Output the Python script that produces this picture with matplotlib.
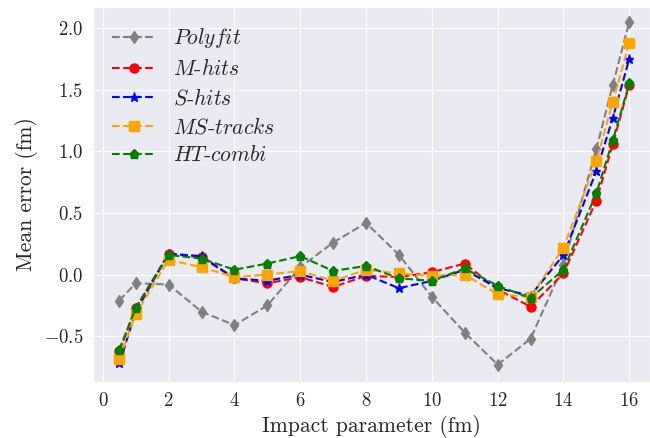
import matplotlib
matplotlib.use('Agg')
import matplotlib.pyplot as plt
import seaborn as sns

sns.set_style('darkgrid')
plt.rcParams['font.family'] = 'serif'
plt.rcParams['font.serif'] = ['cmr10']
plt.rcParams['mathtext.fontset'] = 'cm'
plt.rcParams['axes.formatter.use_mathtext'] = True
plt.rcParams['axes.unicode_minus'] = True

b = [0.5, 1, 2, 3, 4, 5, 6, 7, 8, 9, 10, 11, 12, 13, 14, 15, 15.5, 16]

polyfit = [-0.21, -0.07, -0.08, -0.30, -0.41, -0.25, 0.06, 0.26, 0.42, 0.16,
           -0.18, -0.47, -0.73, -0.52, 0.08, 1.02, 1.54, 2.05]
m_hits = [-0.62, -0.27, 0.17, 0.14, -0.03, -0.07, -0.02, -0.10, -0.01, -0.02,
          0.02, 0.09, -0.12, -0.26, 0.01, 0.60, 1.06, 1.54]
s_hits = [-0.72, -0.30, 0.17, 0.15, -0.03, -0.05, 0.00, -0.06, 0.00, -0.11,
          -0.05, 0.04, -0.11, -0.17, 0.16, 0.84, 1.27, 1.75]
ms_tracks = [-0.68, -0.32, 0.12, 0.06, -0.02, 0.00, 0.03, -0.05, 0.04, 0.01,
             -0.01, 0.00, -0.16, -0.18, 0.22, 0.92, 1.40, 1.88]
ht_combi = [-0.61, -0.27, 0.16, 0.13, 0.04, 0.09, 0.15, 0.03, 0.07, -0.03,
            -0.05, 0.05, -0.09, -0.19, 0.04, 0.66, 1.09, 1.55]

series = [
    (polyfit, 'grey', 'd', r'$Polyfit$'),
    (m_hits, 'red', 'o', r'$M$-$hits$'),
    (s_hits, 'blue', '*', r'$S$-$hits$'),
    (ms_tracks, 'orange', 's', r'$MS$-$tracks$'),
    (ht_combi, 'green', 'p', r'$HT$-$combi$'),
]

fig = plt.figure(figsize=(6.5, 4.38), dpi=100)
ax = fig.add_axes([0.143, 0.128, 0.857, 0.856])

for vals, color, marker, label in series:
    ax.plot(b, vals, linestyle='--', marker=marker, color=color, label=label,
            markersize=6.5, linewidth=1.5)

ax.set_xlim(-0.3, 16.63)
ax.set_ylim(-0.87, 2.17)
ax.set_xlabel('Impact parameter (fm)', fontsize=15.5)
ax.set_ylabel('Mean error (fm)', fontsize=15.5)
ax.set_xticks([0, 2, 4, 6, 8, 10, 12, 14, 16])
ax.set_yticks([-0.5, 0.0, 0.5, 1.0, 1.5, 2.0])
ax.tick_params(labelsize=13.5)
ax.legend(fontsize=15.5, frameon=False, loc='upper left', labelspacing=0.37)

fig.savefig('out.png', dpi=100)
